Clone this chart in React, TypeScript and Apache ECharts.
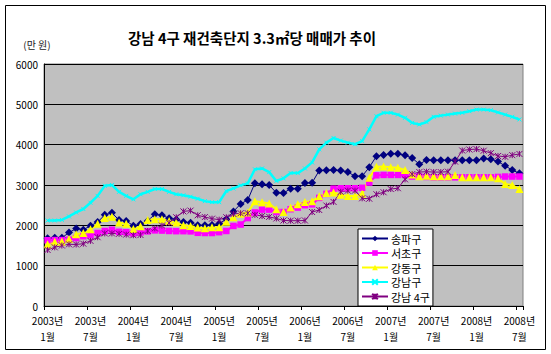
import React, { useEffect, useRef } from "react";
import * as echarts from "echarts";

// 2003-01 .. 2008-07 (67 months)
const CATEGORIES: string[] = [];
for (let k = 0; k < 67; k++) {
  const y = 2003 + Math.floor(k / 12);
  const m = (k % 12) + 1;
  CATEGORIES.push(`${y}년\n${m}월`);
}

const SERIES_NAMES = ["송파구", "서초구", "강동구", "강남구", "강남 4구"];

const songpa = [
  1680, 1690, 1690, 1820, 1920, 1890, 1990, 2080, 2260, 2310, 2130, 2110,
  1990, 2030, 2110, 2275, 2250, 2175, 2145, 2080, 2065, 2000, 2000, 2010,
  2040, 2150, 2345, 2530, 2630, 3045, 3020, 3000, 2805, 2800, 2910, 2910,
  3050, 3055, 3360, 3365, 3370, 3360, 3320, 3220, 3220, 3440, 3715, 3745,
  3775, 3775, 3735, 3670, 3515, 3620, 3615, 3615, 3615, 3615, 3615, 3615,
  3615, 3655, 3640, 3580, 3475, 3370, 3290,
];

const seocho = [
  1630, 1635, 1635, 1645, 1685, 1730, 1755, 1810, 1860, 1890, 1840, 1830,
  1800, 1825, 1850, 1875, 1870, 1860, 1855, 1855, 1850, 1815, 1810, 1810,
  1830, 1860, 1985, 2020, 2180, 2320, 2390, 2390, 2330, 2330, 2400, 2440,
  2500, 2520, 2680, 2780, 2910, 2920, 2920, 2920, 2930, 3060, 3240, 3250,
  3250, 3250, 3250, 3210, 3210, 3200, 3190, 3190, 3190, 3190, 3190, 3190,
  3190, 3190, 3190, 3200, 3210, 3210, 3210,
];

const gangdong = [
  1530, 1590, 1600, 1660, 1780, 1810, 1900, 2040, 2180, 2215, 2070, 2040,
  1910, 1975, 2135, 2150, 2150, 2110, 2070, 2000, 1985, 1945, 1925, 1950,
  1950, 2090, 2200, 2285, 2320, 2600, 2570, 2540, 2400, 2330, 2440, 2520,
  2580, 2600, 2720, 2800, 2815, 2760, 2730, 2730, 2780, 3180, 3450, 3460,
  3440, 3430, 3370, 3260, 3220, 3230, 3215, 3215, 3215, 3245, 3190, 3190,
  3190, 3190, 3190, 3165, 3025, 3000, 2900,
];

const gangnam = [
  2120, 2120, 2135, 2220, 2320, 2405, 2560, 2730, 2980, 3000, 2830, 2730,
  2645, 2770, 2830, 2900, 2900, 2830, 2770, 2745, 2710, 2660, 2600, 2575,
  2575, 2850, 2915, 2990, 3040, 3390, 3410, 3320, 3100, 3165, 3295, 3295,
  3410, 3560, 3885, 4050, 4165, 4100, 4050, 4010, 4090, 4380, 4705, 4790,
  4790, 4745, 4665, 4540, 4500, 4560, 4690, 4720, 4745, 4770, 4790, 4830,
  4870, 4870, 4855, 4800, 4745, 4690, 4625,
];

const gangnam4 = [
  1390, 1455, 1500, 1530, 1525, 1545, 1615, 1705, 1800, 1800, 1790, 1770,
  1755, 1760, 1860, 1925, 1995, 2060, 2200, 2345, 2365, 2250, 2205, 2165,
  2140, 2200, 2280, 2300, 2300, 2260, 2230, 2210, 2170, 2120, 2115, 2115,
  2120, 2330, 2380, 2490, 2580, 2830, 2860, 2860, 2670, 2660, 2770, 2820,
  2900, 2920, 3140, 3270, 3320, 3330, 3320, 3320, 3330, 3580, 3855, 3880,
  3890, 3850, 3790, 3720, 3700, 3740, 3770,
];

const TITLE = "강남 4구 재건축단지 3.3㎡당 매매가 추이";
const UNIT = "(만 원)";

const FONT = "'Noto Sans CJK KR', 'Noto Sans', sans-serif";

export default function App() {
  const ref = useRef<HTMLDivElement>(null);
  useEffect(() => {
    if (!ref.current) return;
    const chart = echarts.init(ref.current, undefined, { renderer: "svg" });
    const xPath = "path://M0,0L10,10M10,0L0,10";
    const starPath = "path://M0,0L10,10M10,0L0,10M5,0L5,10";
    const option: any = {
      animation: false,
      backgroundColor: "#ffffff",
      textStyle: { fontFamily: FONT },
      graphic: [
        {
          type: "rect",
          shape: { x: 5.5, y: 5.5, width: 540, height: 344 },
          style: { fill: "none", stroke: "#000", lineWidth: 1 },
          silent: true,
        },
        {
          type: "text",
          x: 252,
          y: 37,
          style: {
            text: TITLE,
            font: `bold 14.5px ${FONT}`,
            fill: "#000",
            textAlign: "center",
            textVerticalAlign: "middle",
          },
        },
        {
          type: "text",
          x: 37,
          y: 44,
          style: {
            text: UNIT,
            font: `10px ${FONT}`,
            fill: "#222",
            textAlign: "center",
            textVerticalAlign: "middle",
          },
        },
      ],
      grid: {
        left: 44,
        top: 64,
        right: 28,
        bottom: 48,
        show: true,
        backgroundColor: "#C0C0C0",
        borderColor: "#808080",
        borderWidth: 1,
      },
      legend: {
        orient: "vertical",
        left: 358,
        top: 229,
        width: 70,
        backgroundColor: "#ffffff",
        borderColor: "#000",
        borderWidth: 1,
        padding: [3, 3, 3, 3],
        itemGap: 1.5,
        itemWidth: 26,
        itemHeight: 7,
        textStyle: { fontSize: 11, color: "#000", fontFamily: FONT, lineHeight: 13, padding: [0, 0, 0, -2] },
        data: SERIES_NAMES,
      },
      xAxis: {
        type: "category",
        data: CATEGORIES,
        boundaryGap: true,
        axisLine: { show: true, lineStyle: { color: "#000", width: 1 } },
        axisTick: { show: true, interval: 5, length: 4, lineStyle: { color: "#000" } },
        axisLabel: {
          interval: 5,
          fontSize: 10,
          color: "#000",
          lineHeight: 16,
          margin: 6,
          fontFamily: FONT,
        },
        splitLine: { show: false },
      },
      yAxis: {
        type: "value",
        min: 0,
        max: 6000,
        interval: 1000,
        axisLine: { show: true, lineStyle: { color: "#000", width: 1 } },
        axisTick: { show: false },
        axisLabel: {
          fontSize: 10,
          color: "#000",
          margin: 6,
          fontFamily: FONT,
          formatter: (v: number) => String(v),
        },
        splitLine: { show: true, lineStyle: { color: "#000", width: 1 } },
      },
      series: [
        {
          name: SERIES_NAMES[0],
          type: "line",
          data: songpa,
          symbol: "diamond",
          symbolSize: 8,
          showAllSymbol: true,
          lineStyle: { color: "#000080", width: 1 },
          itemStyle: { color: "#000080" },
        },
        {
          name: SERIES_NAMES[1],
          type: "line",
          data: seocho,
          symbol: "rect",
          symbolSize: 6.5,
          showAllSymbol: true,
          lineStyle: { color: "#FF00FF", width: 2 },
          itemStyle: { color: "#FF00FF" },
        },
        {
          name: SERIES_NAMES[2],
          type: "line",
          data: gangdong,
          symbol: "triangle",
          symbolSize: 8,
          showAllSymbol: true,
          lineStyle: { color: "#FFFF00", width: 2 },
          itemStyle: { color: "#FFFF00" },
        },
        {
          name: SERIES_NAMES[3],
          type: "line",
          data: gangnam,
          symbol: xPath,
          symbolSize: 4,
          showAllSymbol: true,
          lineStyle: { color: "#00FFFF", width: 2.5 },
          itemStyle: { color: "#00FFFF", borderColor: "#00FFFF", borderWidth: 1 },
        },
        {
          name: SERIES_NAMES[4],
          type: "line",
          data: gangnam4,
          symbol: starPath,
          symbolSize: 6,
          showAllSymbol: true,
          lineStyle: { color: "#800080", width: 1 },
          itemStyle: { color: "#800080", borderColor: "#800080", borderWidth: 1 },
        },
      ],
    };
    chart.setOption(option);
    return () => chart.dispose();
  }, []);
  return (
    <div
      ref={ref}
      style={{ position: "fixed", left: 0, top: 0, width: 551, height: 354 }}
    />
  );
}
